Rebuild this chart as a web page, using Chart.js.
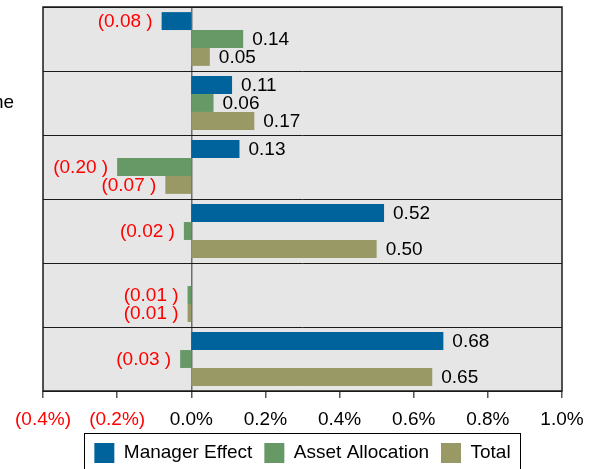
<!DOCTYPE html>
<html lang="en">
<head>
  <meta charset="UTF-8">
  <title>Attribution</title>
  <script src="https://cdn.jsdelivr.net/npm/chart.js"></script>
  <style>
    body { margin: 0; background: #ffffff; }
    #wrap { position: relative; width: 597px; height: 469px; overflow: hidden; }
    /* category labels sit mostly off the left edge, like the original crop */
    #inner { position: absolute; left: -100px; top: 0; width: 697px; height: 473px; }
  </style>
</head>
<body>
  <div id="wrap">
    <div id="inner">
      <canvas id="attrChart" width="697" height="473"></canvas>
    </div>
  </div>

  <script>
    // data
    const categories = ["Equity", "Fixed Income", "Credit", "Property", "Cash", "Overlay"];
    const managerEffect = [-0.08, 0.11, 0.13, 0.52, 0, 0.68];
    const assetAllocation = [0.14, 0.06, -0.20, -0.02, -0.01, -0.03];
    const total = [0.05, 0.17, -0.07, 0.50, -0.01, 0.65];
    const xTickLabels = ["(0.4%)", "(0.2%)", "0.0%", "0.2%", "0.4%", "0.6%", "0.8%", "1.0%"];

    const FONT = "'Liberation Sans', Arial, sans-serif";
    Chart.defaults.font.family = FONT;
    Chart.defaults.font.size = 19;
    Chart.defaults.color = '#000';

    // grey plot background + black frame
    const plotFrame = {
      id: 'plotFrame',
      beforeDraw(chart) {
        const { ctx, chartArea: a } = chart;
        ctx.save();
        ctx.fillStyle = '#e6e6e6';
        ctx.fillRect(a.left, a.top, a.right - a.left, a.bottom - a.top);
        ctx.restore();
      },
      afterDraw(chart) {
        const { ctx, chartArea: a } = chart;
        ctx.save();
        ctx.strokeStyle = '#1a1a1a';
        ctx.lineWidth = 1.5;
        ctx.strokeRect(a.left, a.top, a.right - a.left, a.bottom - a.top);

        // border round the legend
        const boxes = chart.legend.legendHitBoxes;
        if (boxes && boxes.length) {
          const l = Math.min(...boxes.map(b => b.left)) - 10;
          const r = Math.max(...boxes.map(b => b.left + b.width)) + 10;
          const t = boxes[0].top - 10;
          ctx.strokeStyle = '#000';
          ctx.lineWidth = 1;
          ctx.strokeRect(Math.round(l) + 0.5, Math.round(t) + 0.5, Math.round(r - l), boxes[0].height + 20);
        }
        ctx.restore();
      }
    };

    // value labels next to bar ends, negatives in red with brackets
    const valueLabels = {
      id: 'valueLabels',
      afterDatasetsDraw(chart) {
        const ctx = chart.ctx;
        ctx.save();
        ctx.font = '19px ' + FONT;
        ctx.textBaseline = 'middle';
        chart.data.datasets.forEach((ds, i) => {
          chart.getDatasetMeta(i).data.forEach((bar, j) => {
            const v = ds.data[j];
            if (!v) return;
            if (v > 0) {
              ctx.fillStyle = '#000';
              ctx.textAlign = 'left';
              ctx.fillText(v.toFixed(2), bar.x + 9, bar.y + 1);
            } else {
              ctx.fillStyle = '#ff0000';
              ctx.textAlign = 'right';
              ctx.fillText('(' + Math.abs(v).toFixed(2) + ' )', bar.x - 9, bar.y + 1);
            }
          });
        });
        ctx.restore();
      }
    };

    new Chart(document.getElementById('attrChart'), {
      type: 'bar',
      data: {
        labels: categories,
        datasets: [
          { label: 'Manager Effect', data: managerEffect, backgroundColor: '#00639b' },
          { label: 'Asset Allocation', data: assetAllocation, backgroundColor: '#669966' },
          { label: 'Total', data: total, backgroundColor: '#999966' }
        ]
      },
      options: {
        indexAxis: 'y',
        responsive: false,
        animation: false,
        barPercentage: 1,
        categoryPercentage: 0.84,
        layout: { padding: { top: 7, right: 35, left: 0, bottom: 0 } },
        plugins: {
          tooltip: { enabled: false },
          legend: {
            position: 'bottom',
            fullSize: false,
            labels: { boxWidth: 20, boxHeight: 20, padding: 12, color: '#000', font: { size: 19 } }
          }
        },
        scales: {
          x: {
            min: -0.4,
            max: 1.0,
            afterFit(scale) { scale.height = 40; },
            border: { display: false },
            grid: {
              drawOnChartArea: true,
              drawTicks: true,
              tickLength: 7,
              tickColor: '#555',
              tickWidth: 1.5,
              color: c => (c.tick && Math.abs(c.tick.value) < 1e-9) ? '#6f6f6f' : 'rgba(0,0,0,0)',
              lineWidth: 1.5
            },
            ticks: {
              stepSize: 0.2,
              padding: 10,
              font: { size: 19 },
              color: c => c.tick.value < -1e-9 ? '#ff0000' : '#000',
              callback: (v, i) => xTickLabels[i]
            }
          },
          y: {
            afterFit(scale) {
              scale.width = 143;
              scale.paddingTop = 0;
              scale.paddingBottom = 0;
            },
            border: { display: false },
            grid: { color: '#1a1a1a', lineWidth: 1, drawTicks: false },
            ticks: { crossAlign: 'far', padding: 0, color: '#000', font: { size: 19 } }
          }
        }
      },
      plugins: [plotFrame, valueLabels]
    });
  </script>
</body>
</html>
